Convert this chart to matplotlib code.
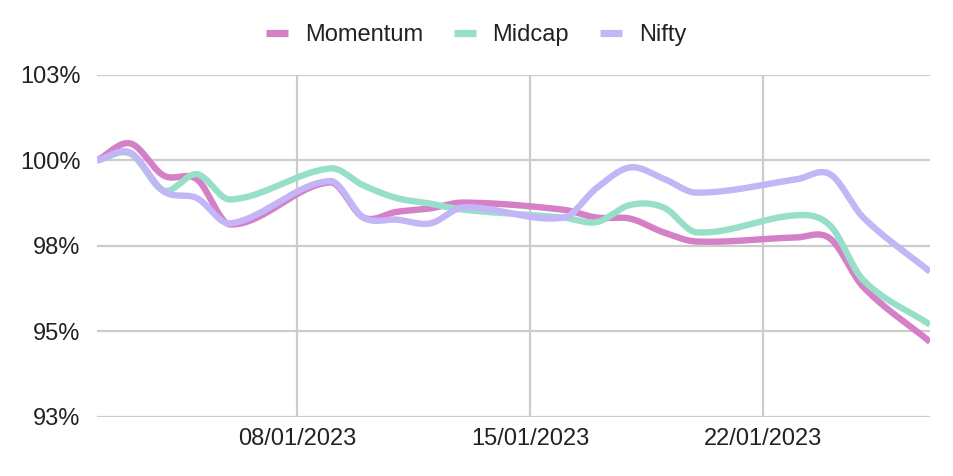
import numpy as np
import matplotlib
matplotlib.use("Agg")
import matplotlib.pyplot as plt
import matplotlib.dates as mdates
from datetime import date

# trading days, Jan 2023 (26th holiday)
days = [2, 3, 4, 5, 6, 9, 10, 11, 12, 13, 16, 17, 18, 19, 20, 23, 24, 25, 27]
momentum = [100.0, 100.5, 99.56, 99.45, 98.13, 99.36, 98.33, 98.5, 98.6, 98.77,
            98.56, 98.33, 98.3, 97.9, 97.63, 97.75, 97.72, 96.3, 94.7]
midcap = [100.0, 100.2, 99.12, 99.6, 98.86, 99.77, 99.27, 98.9, 98.74, 98.56,
          98.33, 98.2, 98.7, 98.63, 97.9, 98.4, 98.1, 96.5, 95.2]
nifty = [100.0, 100.23, 99.1, 98.9, 98.16, 99.4, 98.33, 98.27, 98.16, 98.63,
         98.33, 99.2, 99.8, 99.47, 99.06, 99.45, 99.6, 98.33, 96.75]
yticks = [92.5, 95, 97.5, 100, 102.5]
ylabels = ["93%", "95%", "98%", "100%", "103%"]
xtick_days = [8, 15, 22]

colors = {"Momentum": "#d57fc7", "Midcap": "#98dfca", "Nifty": "#c4b5f6"}
text_color = "#222222"
grid_color = "#cccccc"

plt.rcParams["font.family"] = ["Liberation Sans", "DejaVu Sans"]


def smooth(x, y, n=30):
    # cubic hermite through the points, like the sheet's smooth lines
    x = np.asarray(x, float)
    y = np.asarray(y, float)
    m = np.zeros_like(y)
    m[1:-1] = (y[2:] - y[:-2]) / (x[2:] - x[:-2])
    m[0] = (y[1] - y[0]) / (x[1] - x[0])
    m[-1] = (y[-1] - y[-2]) / (x[-1] - x[-2])
    xs, ys = [], []
    for i in range(len(x) - 1):
        h = x[i + 1] - x[i]
        t = np.linspace(0, 1, n, endpoint=False)
        h00 = 2 * t**3 - 3 * t**2 + 1
        h10 = t**3 - 2 * t**2 + t
        h01 = -2 * t**3 + 3 * t**2
        h11 = t**3 - t**2
        xs.append(x[i] + t * h)
        ys.append(h00 * y[i] + h10 * h * m[i] + h01 * y[i + 1] + h11 * h * m[i + 1])
    xs.append([x[-1]])
    ys.append([y[-1]])
    return np.concatenate(xs), np.concatenate(ys)


xnum = [mdates.date2num(date(2023, 1, d)) for d in days]

fig = plt.figure(figsize=(9.54, 4.76), dpi=100)
ax = fig.add_axes([97 / 954, 1 - 417 / 476, (930 - 97) / 954, (417 - 75) / 476])

for name, vals in [("Momentum", momentum), ("Midcap", midcap), ("Nifty", nifty)]:
    sx, sy = smooth(xnum, vals)
    ax.plot(sx, sy, color=colors[name], lw=4.6, label=name,
            solid_capstyle="butt", solid_joinstyle="round", zorder=3)

ax.set_xlim(xnum[0], xnum[-1])
ax.set_ylim(92.5, 102.5)
ax.set_yticks(yticks)
ax.set_yticklabels(ylabels)
ax.set_xticks([mdates.date2num(date(2023, 1, d)) for d in xtick_days])
ax.set_xticklabels([f"{d:02d}/01/2023" for d in xtick_days])
ax.grid(True, color=grid_color, lw=1.6)
ax.set_axisbelow(True)
for s in ax.spines.values():
    s.set_visible(False)
ax.tick_params(axis="both", length=0, labelsize=17, colors=text_color)
ax.tick_params(axis="y", pad=12)
ax.tick_params(axis="x", pad=8)

leg = fig.legend(loc="center", bbox_to_anchor=(476 / 954, 1 - 35 / 476), ncol=3,
                 frameon=False, fontsize=17, handlelength=0.95,
                 handletextpad=0.7, columnspacing=1.3)
for line in leg.get_lines():
    line.set_linewidth(5.2)
    line.set_solid_capstyle("butt")
for t in leg.get_texts():
    t.set_color(text_color)

fig.savefig("out.png", dpi=100)
